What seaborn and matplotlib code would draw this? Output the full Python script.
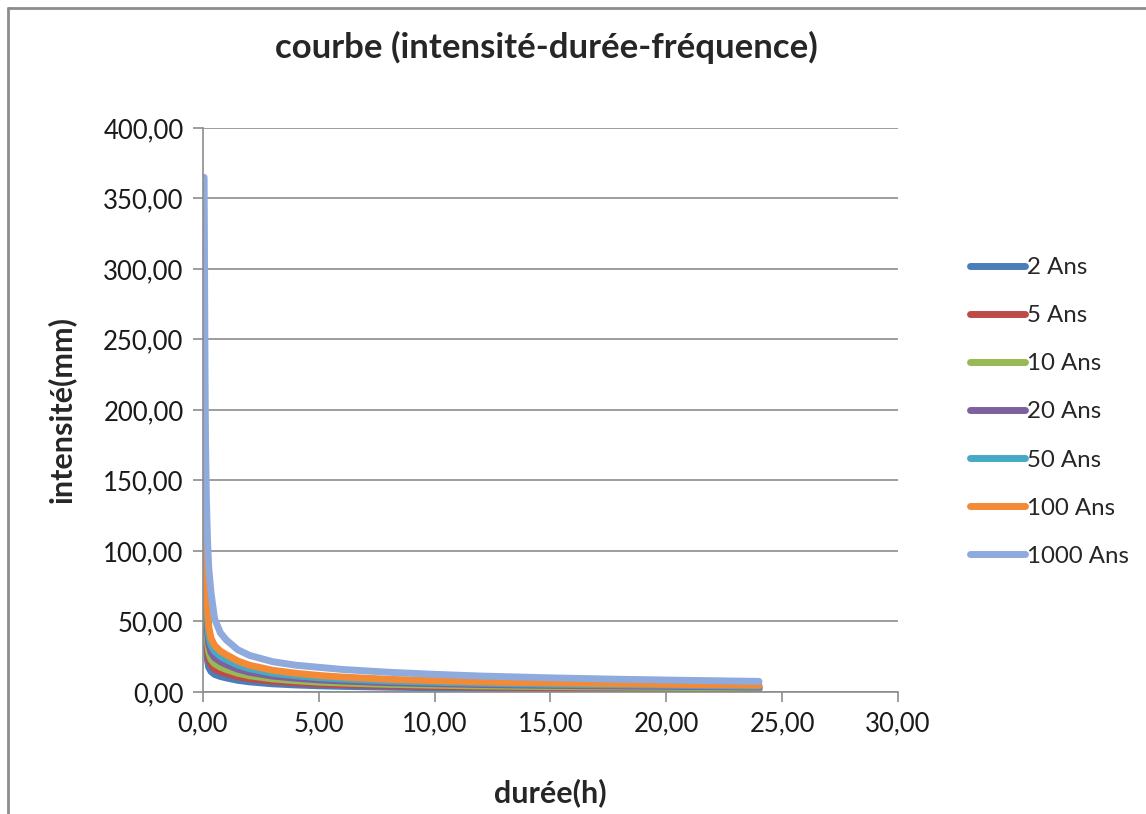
import matplotlib
matplotlib.use("Agg")
import matplotlib.pyplot as plt
import matplotlib.ticker as mticker
from matplotlib.lines import Line2D
import seaborn as sns
import pandas as pd

# ---- data ----
durees = [0.05, 0.1, 0.15, 0.2, 0.25, 0.35, 0.5, 0.75, 1, 1.5, 2, 3, 4, 5, 6, 8, 10, 12, 15, 18, 21, 24]
series_names = ["2 Ans", "5 Ans", "10 Ans", "20 Ans", "50 Ans", "100 Ans", "1000 Ans"]
i_2 = [100, 55, 32, 22, 17.5, 14.5, 12.5, 11, 10, 8.3, 7.2, 5.8, 5.0, 4.4, 4.0, 3.4, 3.0, 2.7, 2.4, 2.2, 2.0, 1.8]
i_5 = [130, 72, 42, 29, 23, 19, 16.3, 14.3, 13, 10.8, 9.4, 7.6, 6.5, 5.7, 5.2, 4.4, 3.9, 3.5, 3.1, 2.8, 2.6, 2.4]
i_10 = [160, 88, 52, 35, 28, 23, 20, 17.6, 16, 13.3, 11.5, 9.3, 8.0, 7.0, 6.4, 5.4, 4.8, 4.3, 3.8, 3.5, 3.2, 2.9]
i_20 = [195, 107, 62, 43, 34, 28, 24.4, 21.5, 19.5, 16.2, 14.0, 11.3, 9.8, 8.6, 7.8, 6.6, 5.9, 5.3, 4.7, 4.3, 3.9, 3.5]
i_50 = [230, 127, 74, 51, 40, 33, 28.8, 25.3, 23, 19.1, 16.6, 13.3, 11.5, 10.1, 9.2, 7.8, 6.9, 6.2, 5.5, 5.1, 4.6, 4.1]
i_100 = [265, 146, 85, 58, 46, 38, 33, 29, 26.5, 22, 19, 15.4, 13.3, 11.7, 10.6, 9.0, 8.0, 7.2, 6.4, 5.8, 5.3, 4.8]
i_1000 = [365, 190, 135, 106, 88, 70, 52, 42, 37, 30, 26, 21.5, 19, 17.5, 16, 14, 12.5, 11.3, 10, 9, 8.2, 7.5]
x_ticks = [0, 5, 10, 15, 20, 25, 30]
y_ticks = [0, 50, 100, 150, 200, 250, 300, 350, 400]

colors = ["#4A7EBB", "#BE4B48", "#98B954", "#7D60A0", "#46AAC5", "#F38A35", "#8FAADC"]

frames = []
for name, vals in zip(series_names, [i_2, i_5, i_10, i_20, i_50, i_100, i_1000]):
    frames.append(pd.DataFrame({"durée": durees, "intensité": vals, "période": name}))
df = pd.concat(frames, ignore_index=True)

sns.set_style("white")
plt.rcParams["font.family"] = ["Lato", "DejaVu Sans"]

fig = plt.figure(figsize=(11.46, 8.14), dpi=100)
ax = fig.add_axes([0.1771, 0.1499, 0.6065, 0.6929])

LW = 5.0
sns.lineplot(data=df, x="durée", y="intensité", hue="période", hue_order=series_names,
             palette=colors, linewidth=LW, ax=ax, sort=False, legend=True,
             estimator=None)
for ln in ax.get_lines():
    ln.set_solid_capstyle("round")
    ln.set_solid_joinstyle("round")

ax.set_xlim(0, 30)
ax.set_ylim(0, 400)
ax.set_xticks(x_ticks)
ax.set_yticks(y_ticks)
fmt = mticker.FuncFormatter(lambda v, p: f"{v:.2f}".replace(".", ","))
ax.xaxis.set_major_formatter(fmt)
ax.yaxis.set_major_formatter(fmt)
ax.tick_params(axis="both", labelsize=18.5, colors="#8C8C8C", labelcolor="#1A1A1A",
               length=7, width=1.2, direction="out", bottom=True, left=True, pad=7)
ax.grid(axis="y", color="#8C8C8C", linewidth=1.2)
ax.grid(axis="x", visible=False)
for s in ["top", "right"]:
    ax.spines[s].set_visible(False)
for s in ["left", "bottom"]:
    ax.spines[s].set_color("#8C8C8C")
    ax.spines[s].set_linewidth(1.2)

ax.set_xlabel("durée(h)", fontsize=22, fontweight="bold", labelpad=30)
ax.set_ylabel("intensité(mm)", fontsize=22, fontweight="bold", labelpad=20)
fig.suptitle("courbe (intensité-durée-fréquence)", fontsize=25, fontweight="bold",
             x=0.477, y=0.962)

handles, labels = ax.get_legend_handles_labels()
ax.get_legend().remove()
for h in handles:
    h.set_linewidth(LW)
    h.set_solid_capstyle("round")
fig.legend(handles, labels, loc="center left", bbox_to_anchor=(0.846, 0.494),
           frameon=False, fontsize=17.3, handlelength=2.3, handletextpad=0.1,
           labelspacing=1.13, borderpad=0, borderaxespad=0)

# chart-area border (top and left visible in the reference)
fig.add_artist(Line2D([0.007, 1.0], [0.99, 0.99], transform=fig.transFigure,
                      color="#8C8C8C", linewidth=2))
fig.add_artist(Line2D([0.007, 0.007], [0.0, 0.99], transform=fig.transFigure,
                      color="#8C8C8C", linewidth=2))

fig.savefig("out.png", dpi=100)
